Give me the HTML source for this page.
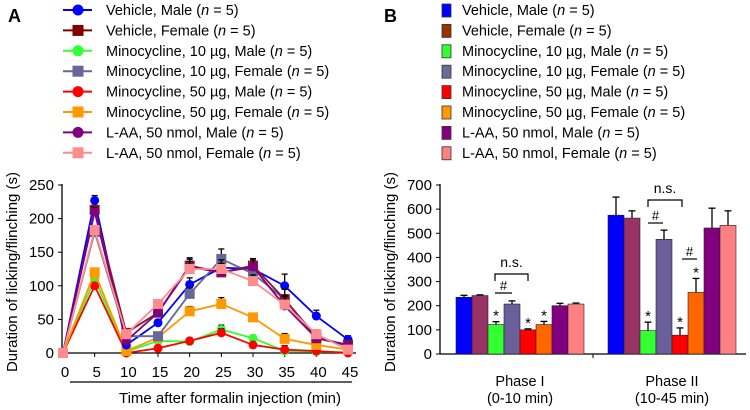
<!DOCTYPE html>
<html><head><meta charset="utf-8"><style>
html,body{margin:0;padding:0;background:#fff;width:750px;height:410px;overflow:hidden}
svg{font-family:"Liberation Sans",Arial,sans-serif}
</style></head><body>
<svg id="fig" width="750" height="410" viewBox="0 0 750 410" xmlns="http://www.w3.org/2000/svg"></svg>
<script>
// ---- Chart A data ----
const timePoints = [0,5,10,15,20,25,30,35,40,45];
const seriesNames = ["Vehicle, Male","Vehicle, Female","Minocycline, 10 µg, Male","Minocycline, 10 µg, Female","Minocycline, 50 µg, Male","Minocycline, 50 µg, Female","L-AA, 50 nmol, Male","L-AA, 50 nmol, Female"];
const vehMale     = [0,227,12,45,102,127,125,100,55,20];
const vehFemale   = [0,213,30,60,130,120,130,80,22,12];
const mino10Male  = [0,110,2,18,17,35,22,3,2,1];
const mino10Fem   = [0,180,25,25,88,140,118,80,25,10];
const mino50Male  = [0,100,0,7,18,30,12,5,3,0];
const mino50Fem   = [0,120,3,23,62,73,53,21,12,5];
const laaMale     = [0,210,18,60,128,120,128,70,22,12];
const laaFem      = [0,183,28,73,125,125,107,72,28,5];
const errA        = [0,4,6,8,10,12,9,18,13,13];
const yTicksA = [0,50,100,150,200,250];
// ---- Chart B data ----
const phases = ["Phase I","Phase II"];
const phaseSub = ["(0-10 min)","(10-45 min)"];
const phaseIVals  = [235,242,122,207,100,122,200,207];
const phaseIErr   = [8,3,12,13,4,13,10,4];
const phaseIIVals = [575,563,97,475,78,255,522,533];
const phaseIIErr  = [75,30,35,38,30,58,82,60];
const yTicksB = [0,100,200,300,400,500,600,700];

const lineColors=["#0000ff","#8b1538","#33ff33","#666699","#ff0000","#ff9900","#800080","#ff8c8c"];
const legColorsA=["#0000ff","#800000","#33ff33","#666699","#ff0000","#ff9900","#800080","#ff8c8c"];
const barColors=["#0000ff","#993366","#33ff33","#6b5f99","#ff0000","#ff6600","#800080","#ff8080"];
const legColorsB=["#0000ff","#993300","#33ff33","#6b6b99","#ff0000","#ff9900","#800080","#ff8080"];
const markers=["c","s","c","s","c","s","c","s"];

const NS="http://www.w3.org/2000/svg", svg=document.getElementById("fig");
function mk(tag,at,parent){const e=document.createElementNS(NS,tag);for(const k in at)e.setAttribute(k,at[k]);(parent||svg).appendChild(e);return e;}
function tx(x,y,s,at,parent){const e=mk("text",Object.assign({x:x,y:y,"font-size":14,fill:"#000"},at||{}),parent);e.innerHTML=s;return e;}

let pa=tx(8,22,"A",{"font-size":18,"font-weight":"bold"});


let pb=tx(384,22,"B",{"font-size":18,"font-weight":"bold"});



const legY=i=>10+i*20.4;
seriesNames.forEach((n,i)=>{
  const g=mk("g",{});
  
  
  const y=legY(i);
  mk("line",{x1:63,x2:92,y1:y,y2:y,stroke:legColorsA[i],"stroke-width":2},g);
  if(markers[i]=="c") mk("circle",{cx:78,cy:y,r:5.5,fill:legColorsA[i]},g);
  else mk("rect",{x:72.5,y:y-5.5,width:11,height:11,fill:legColorsA[i]},g);
  tx(106,y+5,n+" (<tspan font-style='italic'>n</tspan> = 5)",{"font-size":14.5},g);
  const g2=mk("g",{});
  
  
  mk("rect",{x:442,y:y-6,width:9,height:13,fill:legColorsB[i],stroke:"#333","stroke-width":0.8},g2);
  tx(462,y+5,n+" (<tspan font-style='italic'>n</tspan> = 5)",{"font-size":14.5},g2);
});

// ---- Chart A axes ----
const ax=t=>63+t*(285/45);
const ay=v=>353-v*(168/250);
const gA=mk("g",{});


mk("line",{x1:62,x2:62,y1:184,y2:353,stroke:"#000","stroke-width":1.3},gA);
mk("line",{x1:62,x2:356,y1:353,y2:353,stroke:"#000","stroke-width":1.3},gA);
yTicksA.forEach(v=>{mk("line",{x1:58,x2:62,y1:ay(v),y2:ay(v),stroke:"#000"},gA);
  const t=tx(54,ay(v)+5,v,{"text-anchor":"end","font-size":15},gA);
  
  });
timePoints.forEach(t=>{mk("line",{x1:ax(t),x2:ax(t),y1:353,y2:357,stroke:"#000"},gA);
  const l=tx(ax(t)+2,377,t,{"text-anchor":"middle","font-size":15},gA);
  
  });
mk("line",{x1:70,x2:352,y1:382,y2:382,stroke:"#000","stroke-width":1.3},gA);
let xt=tx(230,403,"Time after formalin injection (min)",{"text-anchor":"middle","font-size":15},gA);


let ytA=tx(0,0,"Duration of licking/flinching (s)",{"text-anchor":"middle","font-size":15,transform:"translate(17,272) rotate(-90)"},gA);



const allSeries=[vehMale,vehFemale,mino10Male,mino10Fem,mino50Male,mino50Fem,laaMale,laaFem];
const drawOrder=[2,4,5,0,3,1,6,7];
drawOrder.forEach(i=>{
  const d=allSeries[i];
  const g=mk("g",{},gA);
  
  
  d.forEach((v,k)=>{ if(errA[k]>0 && k>0){const e=errA[k]*(v/150+0.3);
    mk("line",{x1:ax(timePoints[k]),x2:ax(timePoints[k]),y1:ay(v),y2:ay(v+e),stroke:"#000","stroke-width":1.3},g);
    mk("line",{x1:ax(timePoints[k])-3,x2:ax(timePoints[k])+3,y1:ay(v+e),y2:ay(v+e),stroke:"#000","stroke-width":1.3},g);}});
  mk("polyline",{points:d.map((v,k)=>ax(timePoints[k])+","+ay(v)).join(" "),fill:"none",stroke:lineColors[i],"stroke-width":1.8},g);
  d.forEach((v,k)=>{
    let m;
    if(markers[i]=="c") m=mk("circle",{cx:ax(timePoints[k]),cy:ay(v),r:4.5,fill:lineColors[i]},g);
    else m=mk("rect",{x:ax(timePoints[k])-5,y:ay(v)-5,width:10,height:10,fill:lineColors[i]},g);
    
    
  });
});

// ---- Chart B ----
const by=v=>354-v*(169/700);
const gB=mk("g",{});


mk("line",{x1:440,x2:440,y1:184,y2:354,stroke:"#000","stroke-width":1.3},gB);
mk("line",{x1:440,x2:746,y1:354,y2:354,stroke:"#000","stroke-width":1.3},gB);
mk("line",{x1:593,x2:593,y1:354,y2:358,stroke:"#000"},gB);
yTicksB.forEach(v=>{mk("line",{x1:436,x2:440,y1:by(v),y2:by(v),stroke:"#000"},gB);
  const t=tx(432,by(v)+5,v,{"text-anchor":"end","font-size":15},gB);
  
  });
let ytB=tx(0,0,"Duration of licking/flinching (s)",{"text-anchor":"middle","font-size":15,transform:"translate(395,272) rotate(-90)"},gB);


const groupStart=[456,608], bw=16;
[phaseIVals,phaseIIVals].forEach((vals,gi)=>{
  const errs=gi==0?phaseIErr:phaseIIErr;
  vals.forEach((v,i)=>{
    const x=groupStart[gi]+i*bw;
    mk("line",{x1:x+bw/2,x2:x+bw/2,y1:by(v),y2:by(v+errs[i]),stroke:"#000","stroke-width":1.3},gB);
    mk("line",{x1:x+bw/2-3.5,x2:x+bw/2+3.5,y1:by(v+errs[i]),y2:by(v+errs[i]),stroke:"#000","stroke-width":1.3},gB);
    const r=mk("rect",{x:x,y:by(v),width:bw,height:354-by(v),fill:barColors[i],stroke:"#222","stroke-width":0.6},gB);
    
    
    if([2,4,5].includes(i)){const s=tx(x+bw/2,by(v+errs[i])-1,"*",{"text-anchor":"middle","font-size":15},gB);
      
      }
  });
  const c=(groupStart[gi]+4*bw);
  const l1=tx(c,386,phases[gi],{"text-anchor":"middle","font-size":14.5},gB);
  
  
  tx(c,403,phaseSub[gi],{"text-anchor":"middle","font-size":14.5},gB);
});
function bracket(x1,x2,y,label,ly){const g=mk("g",{},gB);
  
  
  mk("polyline",{points:`${x1},${y+7} ${x1},${y} ${x2},${y} ${x2},${y+7}`,fill:"none",stroke:"#000","stroke-width":1.2},g);
  tx((x1+x2)/2,ly,label,{"text-anchor":"middle","font-size":14},g);}
function hashLine(x1,x2,y){const g=mk("g",{},gB);
  
  
  mk("line",{x1:x1,x2:x2,y1:y,y2:y,stroke:"#000","stroke-width":1.2},g);
  tx((x1+x2)/2,y-3,"#",{"text-anchor":"middle","font-size":13},g);}
bracket(495,528,274,"n.s.",267);
hashLine(495,512,293);
bracket(648,682,200,"n.s.",193);
hashLine(648,663,223);
hashLine(682,697,259);
</script>
</body></html>
